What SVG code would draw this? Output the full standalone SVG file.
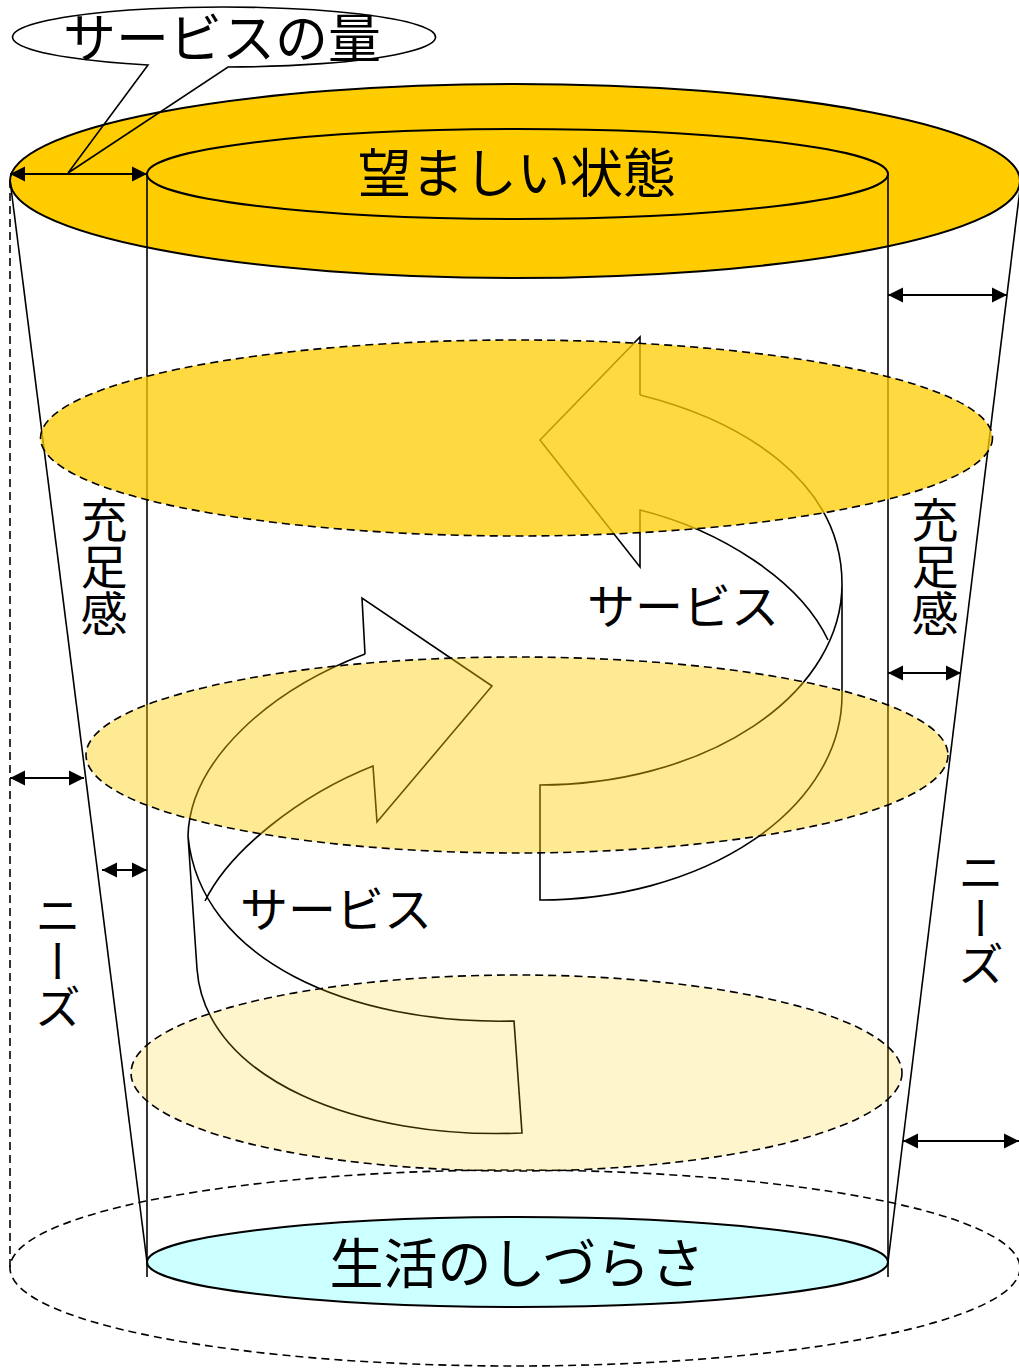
<svg xmlns="http://www.w3.org/2000/svg" width="1019" height="1372" viewBox="0 0 1019 1372">
<style>
.ln{stroke:#000;stroke-width:1.6;fill:none}
.dash{stroke:#000;stroke-width:1.6;stroke-dasharray:8,5}
.rib{stroke:#000;stroke-width:1.6;fill:none;stroke-linejoin:miter}
.t{font-family:"Noto Sans CJK JP","Noto Sans",sans-serif;fill:#000}
.dbl{stroke:#000;stroke-width:2;marker-start:url(#ah);marker-end:url(#ah)}
.v{writing-mode:vertical-rl;text-orientation:upright}
</style>
<defs>
<marker id="ah" markerUnits="userSpaceOnUse" markerWidth="18" markerHeight="18" viewBox="0 0 18 18" refX="16" refY="9" orient="auto-start-reverse">
<path d="M1,1.5 L16,9 L1,16.5 Z" fill="#000"/>
</marker>
</defs>
<g id="outer-base">
<ellipse cx="515" cy="1268" rx="505" ry="98" fill="none" class="dash"/>
<line x1="10" y1="180" x2="10" y2="1268" class="dash"/>
</g>
<g id="top-outer">
<ellipse cx="515" cy="181" rx="505" ry="97" fill="#FFCC00" stroke="#000" stroke-width="2"/>
</g>
<g id="top-inner">
<ellipse cx="517.5" cy="174" rx="370.5" ry="45" fill="#FFCC00" stroke="#000" stroke-width="2"/>
<text class="t" x="517" y="193" font-size="53" text-anchor="middle">望ましい状態</text>
</g>
<g id="connectors">
<line x1="147" y1="174" x2="147" y2="1277" class="ln"/>
<line x1="888" y1="174" x2="888" y2="1277" class="ln"/>
<line x1="10" y1="180" x2="147" y2="1262" class="ln"/>
<line x1="1021" y1="181" x2="888" y2="1262" class="ln"/>
<line x1="10" y1="174" x2="147" y2="174" class="dbl"/>
<line x1="888" y1="295" x2="1007" y2="295" class="dbl"/>
<line x1="888" y1="673" x2="961" y2="673" class="dbl"/>
<line x1="903" y1="1141" x2="1019" y2="1141" class="dbl"/>
<line x1="10" y1="778" x2="84" y2="778" class="dbl"/>
<line x1="102" y1="870" x2="147" y2="870" class="dbl"/>
</g>
<g id="bottom">
<ellipse cx="517.5" cy="1262" rx="370.5" ry="45" fill="#CCFFFF" stroke="#000" stroke-width="2"/>
<text class="t" x="517" y="1284" font-size="54" text-anchor="middle">生活のしづらさ</text>
</g>
<g id="arrow-lower">
<path class="rib" d="M365,654 L362,598 L492,686 L377,822 L373,766 C300,795 230,850 205,901"/>
<path class="rib" d="M365,654 C270,690 190,760 188,836 L197,969 C205,1080 360,1140 522,1133 L514,1021 C350,1025 200,960 188,836"/>
</g>
<g id="arrow-upper">
<path class="rib" d="M640,395 L640,337 L540,440 L640,567 L640,510 C720,530 800,580 828,640"/>
<path class="rib" d="M640,395 C740,420 842,480 842,584 L842,695 A302,205 0 0 1 540,900 L540,785 A302,201 0 0 0 842,584"/>
</g>
<g id="level-upper">
<ellipse cx="516.5" cy="438" rx="476" ry="98" fill="#FFCC00" fill-opacity="0.75" class="dash"/>
</g>
<g id="level-middle">
<ellipse cx="517" cy="755" rx="431" ry="98" fill="#FFCC00" fill-opacity="0.42" class="dash"/>
</g>
<g id="level-lower">
<ellipse cx="516.5" cy="1073" rx="385.5" ry="98" fill="#FFCC00" fill-opacity="0.2" class="dash"/>
</g>
<g id="callout">
<path d="M148,65 L68,173 L228,67 A211.5,30 0 1 0 148,65 Z" fill="none" stroke="#000" stroke-width="1.6"/>
<text class="t" x="222" y="58" font-size="53" text-anchor="middle">サービスの量</text>
</g>
<g id="labels">
<text class="t" x="587" y="624" font-size="48">サービス</text>
<text class="t" x="240" y="927" font-size="48">サービス</text>
<text class="t v" x="104" y="496" font-size="47">充足感</text>
<text class="t v" x="935" y="496" font-size="47">充足感</text>
<text class="t v" x="58" y="892" font-size="46">ニーズ</text>
<text class="t v" x="981" y="849" font-size="46">ニーズ</text>
</g>
</svg>
